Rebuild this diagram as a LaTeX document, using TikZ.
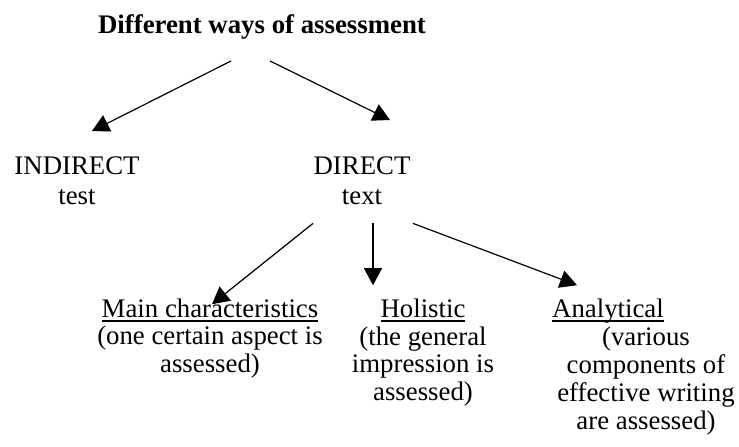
\documentclass[tikz,border=0pt]{standalone}
\usepackage{fontspec}
\setmainfont{Liberation Serif}
\usetikzlibrary{arrows.meta,positioning}
\newsavebox\ulbox
\newcommand\ulhead[1]{\sbox\ulbox{#1}\rlap{\usebox\ulbox}\rule[-5pt]{\wd\ulbox}{1.8pt}}
\tikzset{
  txt/.style={inner sep=0pt,align=center,font=\fontsize{26.8}{27.8}\selectfont},
  lvl/.style={txt,anchor=north,font=\fontsize{26.8}{30}\selectfont},
  ttl/.style={txt,anchor=base,font=\fontsize{26.8}{30}\selectfont\bfseries},
  hd/.style={txt,anchor=base},
  arr/.style={-{Triangle[length=17pt,width=18pt]},line width=1.2pt},
}
\begin{document}
\begin{tikzpicture}[x=1pt,y=1pt]
\useasboundingbox (0,0) rectangle (739,-447);
\node[ttl] (title) at (262,-33) {Different ways of assessment};
\node[lvl] (indirect) at (77,-157) {INDIRECT\\test};
\node[lvl] (direct) at (362,-157) {DIRECT\\text};
\node[hd] (mainc) at (210,-317) {\ulhead{Main characteristics}};
\node[hd] (holi) at (423,-317) {\ulhead{Holistic}};
\node[hd] (anal) at (608,-317) {\ulhead{Analytical}};
\node[txt,below=4pt of mainc] (maind) {(one certain aspect is\\assessed)};
\node[txt,below=4pt of holi] (holid) {(the general\\impression is\\assessed)};
\node[txt,below=4pt of anal,xshift=38pt] (anald) {(various\\components of\\effective writing\\are assessed)};
% arrows
\draw[arr] ([xshift=-31pt,yshift=-22pt]title.south) -- ([xshift=15pt,yshift=26pt]indirect.north);
\draw[arr] ([xshift=8pt,yshift=-22pt]title.south) -- ([xshift=28pt,yshift=37pt]direct.north);
\draw[arr] ([xshift=-49pt,yshift=-18pt]direct.south) -- ([xshift=2pt,yshift=-6pt]mainc.north);
\draw[arr] ([xshift=11pt,yshift=-18pt]direct.south) -- ([xshift=-50pt,yshift=13pt]holi.north);
\draw[arr] ([xshift=51pt,yshift=-18pt]direct.south) -- ([xshift=-31pt,yshift=13pt]anal.north);
\end{tikzpicture}
\end{document}
